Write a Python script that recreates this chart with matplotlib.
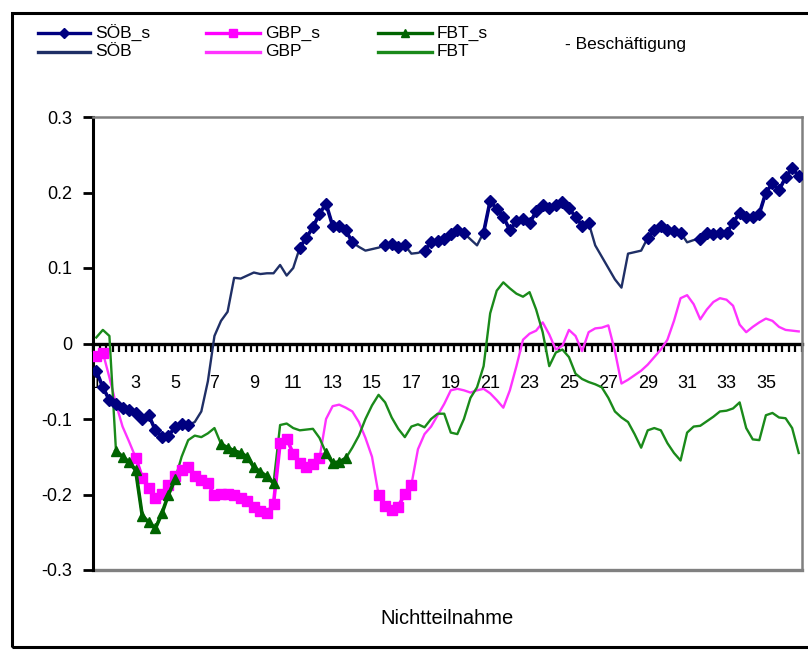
import numpy as np
import matplotlib
matplotlib.use("Agg")
import matplotlib.pyplot as plt
from matplotlib.lines import Line2D
from matplotlib.patches import Rectangle

plt.rcParams['font.family'] = ['Liberation Sans', 'DejaVu Sans']

# ---- data: 108 observations (every 1/3 month), months 1 .. 36.67 ----
months = 1 + np.arange(108) / 3.0
tick_months = list(range(1, 36, 2))
tick_labels = [str(m) for m in tick_months]

soeb = [-0.036, -0.058, -0.075, -0.080, -0.086, -0.088, -0.092, -0.100, -0.095, -0.115,
        -0.124, -0.123, -0.110, -0.106, -0.108, -0.104, -0.090, -0.050, 0.010, 0.030,
        0.042, 0.087, 0.086, 0.090, 0.094, 0.092, 0.093, 0.093, 0.104, 0.090,
        0.100, 0.127, 0.140, 0.154, 0.172, 0.185, 0.156, 0.155, 0.150, 0.134,
        0.128, 0.123, 0.125, 0.127, 0.130, 0.132, 0.128, 0.130, 0.119, 0.120,
        0.123, 0.134, 0.136, 0.139, 0.145, 0.150, 0.146, 0.138, 0.130, 0.147,
        0.189, 0.178, 0.168, 0.150, 0.162, 0.165, 0.159, 0.175, 0.183, 0.179,
        0.183, 0.187, 0.179, 0.168, 0.156, 0.160, 0.130, 0.115, 0.100, 0.085,
        0.074, 0.119, 0.121, 0.123, 0.140, 0.150, 0.156, 0.150, 0.149, 0.147,
        0.134, 0.137, 0.139, 0.146, 0.145, 0.146, 0.146, 0.160, 0.173, 0.167,
        0.168, 0.172, 0.200, 0.212, 0.203, 0.220, 0.232, 0.222]

gbp = [-0.016, -0.012, -0.045, -0.080, -0.110, -0.130, -0.151, -0.178, -0.192, -0.204,
       -0.199, -0.188, -0.175, -0.167, -0.164, -0.176, -0.181, -0.185, -0.201, -0.199,
       -0.199, -0.200, -0.204, -0.208, -0.217, -0.222, -0.225, -0.212, -0.132, -0.126,
       -0.146, -0.158, -0.164, -0.160, -0.152, -0.100, -0.083, -0.081, -0.085, -0.090,
       -0.104, -0.125, -0.150, -0.200, -0.215, -0.220, -0.216, -0.199, -0.187, -0.140,
       -0.120, -0.110, -0.095, -0.080, -0.062, -0.060, -0.062, -0.065, -0.062, -0.060,
       -0.066, -0.075, -0.085, -0.062, -0.030, 0.005, 0.013, 0.017, 0.028, 0.012,
       -0.008, -0.003, 0.018, 0.010, -0.010, 0.015, 0.020, 0.021, 0.024, -0.010,
       -0.053, -0.048, -0.042, -0.036, -0.028, -0.018, -0.008, 0.005, 0.030, 0.060,
       0.064, 0.052, 0.032, 0.045, 0.055, 0.060, 0.058, 0.050, 0.025, 0.015,
       0.022, 0.028, 0.033, 0.030, 0.022, 0.018, 0.017, 0.016]

fbt = [0.008, 0.018, 0.010, -0.142, -0.150, -0.157, -0.168, -0.228, -0.237, -0.245,
       -0.225, -0.200, -0.180, -0.150, -0.128, -0.122, -0.124, -0.119, -0.112, -0.133,
       -0.138, -0.142, -0.145, -0.150, -0.164, -0.170, -0.176, -0.185, -0.108, -0.106,
       -0.112, -0.115, -0.114, -0.113, -0.125, -0.145, -0.158, -0.157, -0.152, -0.138,
       -0.122, -0.100, -0.082, -0.068, -0.078, -0.098, -0.113, -0.124, -0.110, -0.107,
       -0.111, -0.100, -0.093, -0.093, -0.118, -0.120, -0.100, -0.072, -0.058, -0.030,
       0.040, 0.070, 0.081, 0.073, 0.066, 0.062, 0.068, 0.045, 0.015, -0.030,
       -0.012, -0.008, -0.018, -0.040, -0.047, -0.051, -0.054, -0.058, -0.072, -0.090,
       -0.098, -0.104, -0.120, -0.138, -0.115, -0.112, -0.115, -0.132, -0.145, -0.155,
       -0.118, -0.110, -0.109, -0.103, -0.097, -0.090, -0.089, -0.086, -0.078, -0.112,
       -0.127, -0.128, -0.095, -0.092, -0.098, -0.099, -0.112, -0.145]

# index ranges (inclusive) where the estimate is significant (the "_s" series)
soeb_sig = [(0, 14), (31, 39), (44, 47), (50, 56), (59, 75), (84, 89), (92, 107)]
gbp_sig = [(0, 1), (6, 34), (43, 48)]
fbt_sig = [(3, 12), (19, 27), (35, 38)]

c_soeb_s, c_soeb = '#000080', '#1f2f66'
c_gbp_s, c_gbp = '#ff00ff', '#ff33ff'
c_fbt_s, c_fbt = '#006400', '#1a8a1a'


def sig_series(vals, ranges):
    out = np.full(len(vals), np.nan)
    for a, b in ranges:
        out[a:b + 1] = np.asarray(vals[a:b + 1])
    return out


W, H = 808, 650
fig = plt.figure(figsize=(W / 100, H / 100), dpi=100)

# outer frame
fig.add_artist(Rectangle((12 / W, 1 - 647 / H), 805 / W, (647 - 13) / H,
                         transform=fig.transFigure, fill=False, ec='black', lw=2.2))

L, R, T, B = 93, 802, 117, 570
ax = fig.add_axes([L / W, 1 - B / H, (R - L) / W, (B - T) / H])

ax.plot(months, soeb, color=c_soeb, lw=1.7, zorder=3)
ax.plot(months, gbp, color=c_gbp, lw=1.7, zorder=3)
ax.plot(months, fbt, color=c_fbt, lw=1.7, zorder=3)
ax.plot(months, sig_series(soeb, soeb_sig), color=c_soeb_s, lw=2.6, marker='D', ms=6, zorder=4)
ax.plot(months, sig_series(gbp, gbp_sig), color=c_gbp_s, lw=2.6, marker='s', ms=7, zorder=4)
ax.plot(months, sig_series(fbt, fbt_sig), color=c_fbt_s, lw=2.6, marker='^', ms=7, zorder=4)

ax.set_xlim(1 - 1 / 6, months[-1] + 1 / 6)
ax.set_ylim(-0.3, 0.3)

ax.spines['bottom'].set_position(('data', 0))
ax.spines['bottom'].set_linewidth(2.4)
ax.spines['bottom'].set_zorder(2)
ax.spines['left'].set_linewidth(2.2)
for s in ('top', 'right'):
    ax.spines[s].set_color('#808080')
    ax.spines[s].set_linewidth(1.8)
ax.axhline(-0.3, color='#808080', lw=2.4, clip_on=False, zorder=1)

ax.set_yticks([0.3, 0.2, 0.1, 0, -0.1, -0.2, -0.3])
ax.set_yticklabels(['0.3', '0.2', '0.1', '0', '-0.1', '-0.2', '-0.3'], fontsize=13)
ax.tick_params(axis='y', direction='out', length=7, width=2, pad=8)

ax.set_xticks(tick_months)
ax.set_xticklabels(tick_labels, fontsize=13)
ax.set_xticks(1 - 1 / 6 + np.arange(109) / 3.0, minor=True)
ax.tick_params(axis='x', which='major', length=0, pad=23)
ax.tick_params(axis='x', which='minor', direction='out', length=5.5, width=1.6)

fig.text((L + R) / 2 / W, 1 - 618 / H, 'Nichtteilnahme', ha='center', va='center', fontsize=14.5)

# legend (drawn manually to match the original layout)
rows = [33, 52]
cols = [(38, 90, 95), (206, 260, 265), (378, 432, 437)]
entries = [(('SÖB_s', c_soeb_s, 'D', 5), ('SÖB', c_soeb, None, 0)),
           (('GBP_s', c_gbp_s, 's', 6), ('GBP', c_gbp, None, 0)),
           (('FBT_s', c_fbt_s, '^', 6), ('FBT', c_fbt, None, 0))]
for (x0, x1, xt), col in zip(cols, entries):
    for y, (lab, col_c, mk, ms) in zip(rows, col):
        yf = 1 - y / H
        fig.add_artist(Line2D([x0 / W, x1 / W], [yf, yf], transform=fig.transFigure,
                              color=col_c, lw=2.4))
        if mk:
            fig.add_artist(Line2D([(x0 + x1) / 2 / W], [yf], transform=fig.transFigure,
                                  color=col_c, marker=mk, ms=ms, lw=0))
        fig.text(xt / W, yf, lab, ha='left', va='center', fontsize=12.5)
fig.text(565 / W, 1 - 45 / H, '- Beschäftigung', ha='left', va='center', fontsize=12.5)

fig.savefig('out.png', dpi=100)
